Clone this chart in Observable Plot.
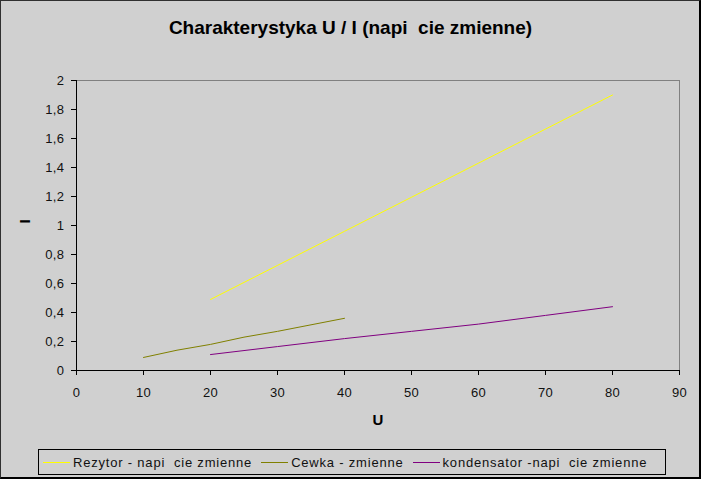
<!DOCTYPE html>
<html>
<head>
<meta charset="utf-8">
<script src="https://cdn.jsdelivr.net/npm/d3@7"></script>
<script src="https://cdn.jsdelivr.net/npm/@observablehq/plot@0.6"></script>
<style>
  html, body { margin: 0; padding: 0; background: #d0d0d0; }
  #wrap { position: relative; width: 701px; height: 479px; background: #d0d0d0; overflow: hidden;
          font-family: "Liberation Sans", Arial, sans-serif; }
  #frame { position: absolute; left: 0; top: 0; width: 701px; height: 479px; box-sizing: border-box;
           border-top: 1px solid #303030; border-left: 1px solid #303030;
           border-right: 2px solid #000; border-bottom: 2px solid #000; pointer-events: none; }
  #title { position: absolute; left: 0; top: 17px; width: 701px; text-align: center;
           font-weight: bold; font-size: 19px; white-space: pre; color: #000; }
  #chart { position: absolute; left: 0; top: 50px; }
  #legend { position: absolute; left: 38px; top: 449px; width: 628px; height: 26px; box-sizing: border-box;
            border: 1px solid #000; display: flex; align-items: center; font-size: 13px; color: #111;
            letter-spacing: 0.8px; white-space: pre; padding-left: 4px; }
  .sw { display: inline-block; width: 27px; height: 0; border-top: 1px solid; margin-right: 3px; }
  .item { display: flex; align-items: center; margin-right: 9px; }
</style>
</head>
<body>
<div id="wrap">
  <div id="title"></div>
  <div id="chart"></div>
  <div id="legend"></div>
  <div id="frame"></div>
</div>
<script>
const titleText = "Charakterystyka U / I (napi  cie zmienne)";
const xLabel = "U";
const yLabel = "I";
const xTicks = [0, 10, 20, 30, 40, 50, 60, 70, 80, 90];
const yTicks = [0, 0.2, 0.4, 0.6, 0.8, 1, 1.2, 1.4, 1.6, 1.8, 2];

const seriesNames = ["Rezytor - napi  cie zmienne", "Cewka - zmienne", "kondensator -napi  cie zmienne"];
const seriesColors = ["#ffff00", "#808000", "#800080"];

const rezU = [20, 30, 40, 50, 60, 70, 80];
const rezI = [0.49, 0.725, 0.96, 1.195, 1.43, 1.665, 1.9];
const cewU = [10, 15, 20, 25, 30, 35, 40];
const cewI = [0.09, 0.14, 0.18, 0.23, 0.27, 0.315, 0.36];
const konU = [20, 30, 40, 50, 60, 70, 80];
const konI = [0.11, 0.165, 0.22, 0.27, 0.32, 0.38, 0.44];

const rows = [];
[[rezU, rezI], [cewU, cewI], [konU, konI]].forEach(([us, is], k) => {
  us.forEach((u, i) => rows.push({ s: seriesNames[k], u, i: is[i] }));
});

document.getElementById("title").textContent = titleText;

const chart = Plot.plot({
  width: 701,
  height: 390,
  marginLeft: 76,
  marginRight: 22,
  marginTop: 30,
  marginBottom: 70,
  style: { background: "transparent", fontFamily: "Liberation Sans, Arial, sans-serif", fontSize: "13px", color: "#000", overflow: "visible", letterSpacing: "0.4px" },
  x: { domain: [0, 90] },
  y: { domain: [0, 2] },
  color: { domain: seriesNames, range: seriesColors },
  marks: [
    Plot.ruleY([2], { stroke: "#808080" }),
    Plot.ruleX([90], { stroke: "#808080" }),
    Plot.ruleX([0], { stroke: "#000" }),
    Plot.ruleY([0], { stroke: "#000" }),
    Plot.axisX({ ticks: xTicks, tickSize: 5, tickPadding: 12, label: null, stroke: "#000", fill: "#111" }),
    Plot.axisY({ ticks: yTicks, tickSize: 5, tickPadding: 7, label: null, tickFormat: d => String(d).replace(".", ","), stroke: "#000", fill: "#111" }),
    Plot.line(rows, { x: "u", y: "i", z: "s", stroke: "s", strokeWidth: 1 }),
    Plot.text([xLabel], { frameAnchor: "bottom", dy: 54, text: d => d, fontWeight: "bold", fontSize: 15, fill: "#000" }),
    Plot.text([yLabel], { frameAnchor: "left", dx: -51, dy: -2, rotate: -90, text: d => d, fontWeight: "bold", fontSize: 15, fill: "#000" })
  ]
});
document.getElementById("chart").appendChild(chart);

const legend = document.getElementById("legend");
seriesNames.forEach((n, k) => {
  const it = document.createElement("span");
  it.className = "item";
  const sw = document.createElement("span");
  sw.className = "sw";
  sw.style.borderTopColor = seriesColors[k];
  it.appendChild(sw);
  const t = document.createElement("span");
  t.textContent = n;
  it.appendChild(t);
  legend.appendChild(it);
});
</script>
</body>
</html>
